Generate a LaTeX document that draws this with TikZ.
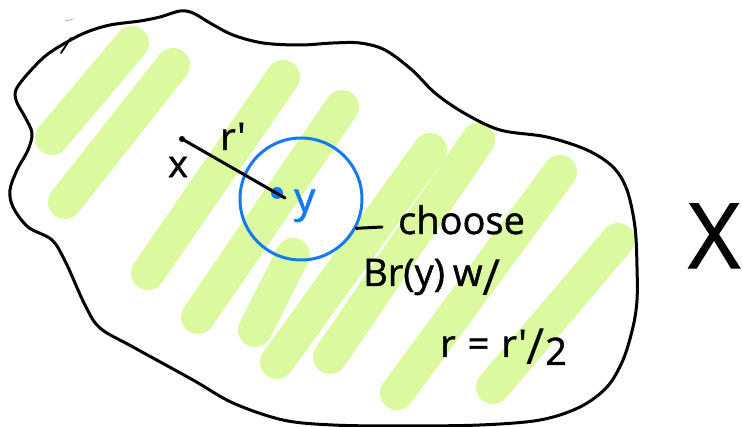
\documentclass[tikz,border=0pt]{standalone}
\usepackage{fontspec}
\setmainfont{Open Sans}
\newfontfamily\handfont{Open Sans}[FakeBold=1.2]
\newfontfamily\thinfont{Open Sans}
\definecolor{lime}{RGB}{219,250,160}
\definecolor{penblue}{RGB}{20,122,240}
\begin{document}
\begin{tikzpicture}[x=1pt,y=-1pt,
  hl/.style={line width=34pt,line cap=round,draw=lime},
  ink/.style={line width=3pt,line cap=round,line join=round},
  hand/.style={inner sep=0pt,font=\handfont\fontsize{38}{40}\selectfont}]
\useasboundingbox (0,0) rectangle (742,427);
% highlighter strokes
\draw[hl] (132,43) -- (52,138);
\draw[hl] (173,65) -- (65,202);
\draw[hl] (283,77) -- (148,273);
\draw[hl] (342,107) -- (198,317);
\draw[hl] (293,255) -- (255,330);
\draw[hl] (430,150) -- (277,362);
\draw[hl] (478,140) -- (330,357);
\draw[hl] (560,172) -- (397,393);
\draw[hl] (618,240) -- (493,387);
% blob outline
\draw[ink] plot[smooth cycle, tension=0.55] coordinates {
 (67,42) (87,32) (110,25) (140,21) (160,17) (180,11) (193,13) (210,23)
 (233,35) (263,43) (300,45) (333,43) (360,43) (385,50) (412,70) (435,93)
 (464,113) (500,130) (547,137) (587,150) (613,167) (627,190) (635,227)
 (637,267) (637,300) (633,327) (623,360) (607,387) (580,407) (540,420)
 (480,425) (400,426) (333,425) (283,420) (233,403) (193,380) (133,347)
 (100,328) (85,305) (66,263) (52,240) (28,227) (13,207) (10,190) (17,170)
 (28,150) (32,133) (25,117) (16,100) (18,86) (43,58)};
\draw[line width=1.8pt,line cap=round] (61,53) -- (71,38);
\draw[line width=1pt,gray!50,line cap=round] (65,21) -- (73,19);
% ball
\node[circle,draw=penblue,line width=3pt,minimum size=122pt,inner sep=0pt] (ball) at (301,199) {};
\coordinate (xp) at (182,139);
\coordinate (yp) at (285,198);
\fill[penblue] (277,193) circle (6);
\draw[ink] (xp) -- (yp);
\fill (xp) circle (3);
% labels
\node[hand,anchor=center] (lx) at (178,167) {x};
\node[hand,anchor=base west] (lr) at (220,150) {r'};
\node[hand,anchor=base west,text=penblue,font=\handfont\fontsize{42}{44}\selectfont] (ly) at (294,212) {y};
\coordinate (dashend) at (382,227);
\draw[ink] (ball.-28) -- (dashend);
\node[hand,anchor=base west] (choose) at (398,234) {choose};
\node[hand,anchor=base west] (br) at (363,286) {Br(y)\hspace{8pt}w\raisebox{-10pt}{\thinfont\fontsize{50}{50}\selectfont /}};
\node[hand,anchor=base west] (req) at (440,357) {r\hspace{12pt}=\hspace{12pt}r'\raisebox{-8pt}{\thinfont\fontsize{50}{50}\selectfont /}\raisebox{-8pt}{2}};
\node[inner sep=0pt,anchor=base west,font=\handfont\fontsize{90}{90}\selectfont] (bigx) at (688,268) {X};
\end{tikzpicture}
\end{document}
